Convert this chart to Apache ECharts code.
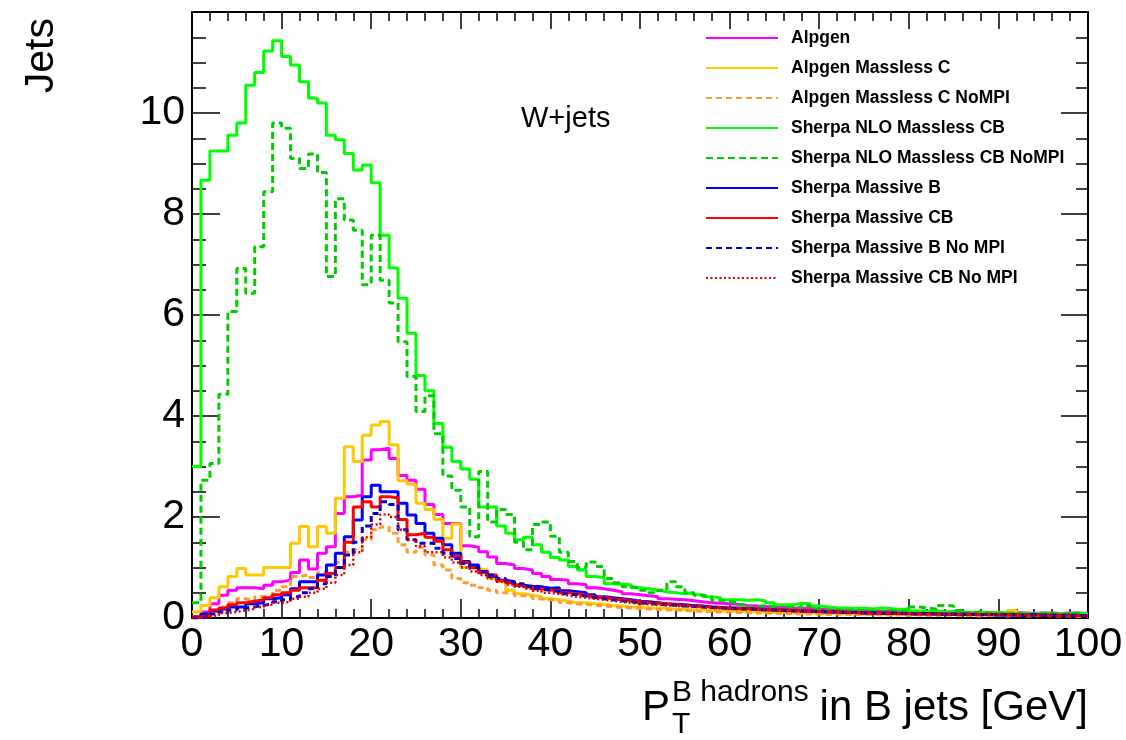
<!DOCTYPE html>
<html>
<head>
<meta charset="utf-8">
<script src="https://cdn.jsdelivr.net/npm/echarts@6/dist/echarts.min.js"></script>
<style>
  html, body { margin: 0; padding: 0; background: #fff; }
  #chart { width: 1126px; height: 740px; }
</style>
</head>
<body>
<div id="chart"></div>
<script>
// Histogram binning: 100 bins of 1 GeV from 0 to 100 GeV
const NBINS = 100;
const BIN_WIDTH = 1;
const xTicks = [0, 10, 20, 30, 40, 50, 60, 70, 80, 90, 100];
const yTicks = [0, 2, 4, 6, 8, 10];

const seriesNames = [
  'Alpgen',
  'Alpgen Massless C',
  'Alpgen Massless C NoMPI',
  'Sherpa NLO Massless CB',
  'Sherpa NLO Massless CB NoMPI',
  'Sherpa Massive B',
  'Sherpa Massive CB',
  'Sherpa Massive B No MPI',
  'Sherpa Massive CB No MPI'
];

// Bin contents (Jets per 1 GeV bin)
const alpgen = [
  0.02, 0.12, 0.28, 0.45, 0.55, 0.60, 0.60, 0.58, 0.65, 0.72,
  0.75, 0.90, 1.15, 0.97, 1.28, 1.41, 2.07, 2.40, 2.43, 3.13,
  3.33, 3.36, 3.16, 2.82, 2.73, 2.55, 2.25, 2.05, 1.87, 1.87,
  1.43, 1.40, 1.31, 1.21, 1.08, 1.05, 0.98, 0.95, 0.88, 0.82,
  0.76, 0.75, 0.68, 0.66, 0.60, 0.58, 0.55, 0.52, 0.48, 0.46,
  0.44, 0.42, 0.38, 0.37, 0.36, 0.34, 0.32, 0.30, 0.29, 0.28,
  0.27, 0.25, 0.24, 0.23, 0.22, 0.22, 0.20, 0.20, 0.19, 0.18,
  0.17, 0.17, 0.16, 0.15, 0.15, 0.14, 0.14, 0.13, 0.13, 0.12,
  0.12, 0.12, 0.11, 0.12, 0.11, 0.11, 0.10, 0.11, 0.10, 0.10,
  0.10, 0.11, 0.10, 0.09, 0.10, 0.10, 0.09, 0.10, 0.10, 0.09
];
const alpgenMasslessC = [
  0.12, 0.25, 0.40, 0.62, 0.82, 0.98, 0.85, 0.85, 1.00, 1.00,
  1.00, 1.48, 1.81, 1.41, 1.81, 1.68, 2.37, 3.39, 3.10, 3.62,
  3.82, 3.89, 3.43, 2.72, 2.65, 2.27, 2.15, 1.95, 1.58, 1.86,
  1.00, 0.98, 0.95, 0.78, 0.72, 0.55, 0.48, 0.45, 0.42, 0.38,
  0.36, 0.33, 0.30, 0.30, 0.28, 0.27, 0.25, 0.24, 0.22, 0.22,
  0.20, 0.20, 0.19, 0.18, 0.17, 0.16, 0.16, 0.15, 0.14, 0.14,
  0.13, 0.13, 0.12, 0.12, 0.11, 0.11, 0.10, 0.10, 0.10, 0.09,
  0.09, 0.10, 0.08, 0.09, 0.08, 0.09, 0.08, 0.07, 0.08, 0.07,
  0.08, 0.07, 0.08, 0.07, 0.07, 0.08, 0.07, 0.08, 0.07, 0.09,
  0.10, 0.15, 0.08, 0.07, 0.08, 0.07, 0.08, 0.07, 0.08, 0.07
];
const alpgenMasslessCNoMPI = [
  0.02, 0.08, 0.15, 0.22, 0.30, 0.38, 0.35, 0.42, 0.45, 0.55,
  0.62, 0.82, 0.85, 0.80, 0.90, 1.05, 1.10, 1.30, 1.35, 1.55,
  1.75, 1.80, 1.68, 1.45, 1.30, 1.40, 1.25, 1.05, 0.95, 0.78,
  0.70, 0.65, 0.60, 0.55, 0.50, 0.48, 0.44, 0.42, 0.38, 0.36,
  0.34, 0.30, 0.28, 0.27, 0.25, 0.24, 0.22, 0.21, 0.20, 0.19,
  0.18, 0.17, 0.16, 0.16, 0.15, 0.14, 0.13, 0.13, 0.12, 0.12,
  0.11, 0.11, 0.10, 0.10, 0.09, 0.09, 0.09, 0.08, 0.08, 0.08,
  0.07, 0.08, 0.07, 0.07, 0.06, 0.07, 0.06, 0.06, 0.06, 0.05,
  0.06, 0.05, 0.05, 0.06, 0.05, 0.05, 0.05, 0.04, 0.05, 0.05,
  0.04, 0.05, 0.04, 0.04, 0.05, 0.04, 0.04, 0.04, 0.03, 0.04
];
const sherpaNLOMasslessCB = [
  3.00, 8.67, 9.25, 9.25, 9.56, 9.80, 10.55, 10.80, 11.23, 11.43,
  11.12, 10.95, 10.62, 10.29, 10.20, 9.56, 9.47, 9.20, 8.87, 8.97,
  8.62, 7.58, 6.93, 6.33, 5.64, 4.80, 4.50, 3.85, 3.38, 3.10,
  2.95, 2.75, 2.20, 2.20, 1.82, 1.68, 1.55, 1.60, 1.45, 1.30,
  1.20, 1.15, 1.02, 0.95, 0.82, 0.80, 0.68, 0.67, 0.66, 0.60,
  0.58, 0.55, 0.52, 0.50, 0.48, 0.50, 0.46, 0.42, 0.40, 0.36,
  0.36, 0.35, 0.36, 0.34, 0.30, 0.26, 0.26, 0.29, 0.28, 0.24,
  0.22, 0.20, 0.20, 0.19, 0.20, 0.18, 0.20, 0.19, 0.17, 0.18,
  0.14, 0.13, 0.15, 0.12, 0.13, 0.12, 0.11, 0.12, 0.10, 0.11,
  0.10, 0.09, 0.10, 0.08, 0.10, 0.09, 0.08, 0.09, 0.10, 0.08
];
const sherpaNLOMasslessCBNoMPI = [
  0.30, 2.73, 3.06, 4.43, 6.07, 6.92, 6.43, 7.35, 8.44, 9.80,
  9.70, 9.10, 8.90, 9.19, 8.82, 6.76, 8.30, 7.88, 7.68, 6.60,
  7.58, 6.69, 6.24, 5.47, 4.78, 4.09, 4.40, 3.65, 2.81, 2.53,
  2.20, 1.61, 2.90, 1.90, 2.15, 2.05, 1.50, 1.35, 1.85, 1.90,
  1.62, 1.30, 1.12, 1.00, 1.11, 1.02, 0.78, 0.70, 0.62, 0.60,
  0.55, 0.50, 0.55, 0.72, 0.62, 0.50, 0.45, 0.42, 0.35, 0.32,
  0.30, 0.26, 0.22, 0.25, 0.22, 0.18, 0.22, 0.20, 0.25, 0.18,
  0.15, 0.16, 0.14, 0.16, 0.13, 0.14, 0.12, 0.15, 0.13, 0.14,
  0.22, 0.20, 0.18, 0.25, 0.24, 0.15, 0.10, 0.12, 0.10, 0.09,
  0.08, 0.10, 0.07, 0.09, 0.08, 0.10, 0.07, 0.08, 0.09, 0.05
];
const sherpaMassiveB = [
  0.02, 0.08, 0.14, 0.18, 0.22, 0.22, 0.28, 0.30, 0.38, 0.40,
  0.46, 0.58, 0.72, 0.72, 0.85, 1.05, 1.28, 1.61, 1.94, 2.40,
  2.63, 2.50, 2.50, 2.27, 2.04, 1.87, 1.68, 1.58, 1.45, 1.28,
  1.12, 1.05, 0.92, 0.82, 0.75, 0.72, 0.65, 0.63, 0.62, 0.59,
  0.60, 0.54, 0.52, 0.50, 0.46, 0.42, 0.40, 0.38, 0.36, 0.33,
  0.32, 0.30, 0.28, 0.27, 0.26, 0.25, 0.24, 0.22, 0.21, 0.20,
  0.20, 0.19, 0.18, 0.17, 0.16, 0.16, 0.15, 0.14, 0.14, 0.13,
  0.12, 0.12, 0.11, 0.11, 0.10, 0.10, 0.10, 0.09, 0.09, 0.09,
  0.08, 0.09, 0.08, 0.08, 0.07, 0.08, 0.07, 0.07, 0.07, 0.06,
  0.07, 0.06, 0.06, 0.07, 0.06, 0.06, 0.05, 0.06, 0.05, 0.05
];
const sherpaMassiveCB = [
  0.02, 0.05, 0.16, 0.20, 0.26, 0.30, 0.33, 0.36, 0.40, 0.46,
  0.50, 0.55, 0.60, 0.60, 0.75, 0.88, 1.00, 1.50, 2.20, 2.30,
  2.20, 2.40, 2.38, 1.95, 1.65, 1.68, 1.60, 1.52, 1.35, 1.22,
  1.10, 1.00, 0.90, 0.85, 0.75, 0.70, 0.66, 0.62, 0.58, 0.55,
  0.55, 0.50, 0.48, 0.45, 0.42, 0.40, 0.38, 0.36, 0.34, 0.32,
  0.30, 0.29, 0.28, 0.26, 0.25, 0.24, 0.23, 0.22, 0.21, 0.20,
  0.19, 0.19, 0.18, 0.17, 0.17, 0.16, 0.15, 0.15, 0.14, 0.13,
  0.13, 0.12, 0.12, 0.11, 0.11, 0.10, 0.10, 0.10, 0.09, 0.09,
  0.09, 0.08, 0.09, 0.08, 0.08, 0.07, 0.08, 0.07, 0.07, 0.07,
  0.06, 0.07, 0.06, 0.06, 0.06, 0.05, 0.06, 0.05, 0.05, 0.05
];
const sherpaMassiveBNoMPI = [
  0.00, 0.03, 0.08, 0.12, 0.16, 0.20, 0.22, 0.25, 0.28, 0.32,
  0.36, 0.42, 0.50, 0.58, 0.68, 0.82, 1.00, 1.25, 1.50, 1.82,
  2.07, 2.30, 2.25, 1.75, 1.55, 1.48, 1.48, 1.38, 1.28, 1.18,
  1.08, 1.00, 0.92, 0.85, 0.78, 0.72, 0.68, 0.62, 0.58, 0.55,
  0.52, 0.48, 0.46, 0.43, 0.40, 0.38, 0.36, 0.34, 0.32, 0.30,
  0.29, 0.27, 0.26, 0.25, 0.24, 0.23, 0.22, 0.21, 0.20, 0.19,
  0.18, 0.18, 0.17, 0.16, 0.16, 0.15, 0.14, 0.14, 0.13, 0.13,
  0.12, 0.12, 0.11, 0.11, 0.10, 0.10, 0.09, 0.10, 0.09, 0.08,
  0.08, 0.09, 0.08, 0.07, 0.08, 0.07, 0.07, 0.06, 0.07, 0.06,
  0.06, 0.06, 0.05, 0.06, 0.05, 0.05, 0.05, 0.04, 0.05, 0.04
];
const sherpaMassiveCBNoMPI = [
  0.00, 0.02, 0.05, 0.10, 0.12, 0.15, 0.18, 0.22, 0.26, 0.30,
  0.32, 0.38, 0.42, 0.50, 0.58, 0.70, 0.85, 1.05, 1.30, 1.60,
  1.85, 2.05, 2.00, 1.75, 1.55, 1.42, 1.30, 1.30, 1.20, 1.10,
  1.00, 0.92, 0.85, 0.78, 0.72, 0.66, 0.62, 0.58, 0.54, 0.50,
  0.48, 0.45, 0.42, 0.40, 0.38, 0.36, 0.34, 0.32, 0.30, 0.28,
  0.27, 0.26, 0.25, 0.24, 0.23, 0.22, 0.21, 0.20, 0.19, 0.18,
  0.18, 0.17, 0.16, 0.16, 0.15, 0.14, 0.14, 0.13, 0.13, 0.12,
  0.12, 0.11, 0.11, 0.10, 0.10, 0.09, 0.09, 0.09, 0.08, 0.08,
  0.08, 0.07, 0.08, 0.07, 0.07, 0.07, 0.06, 0.07, 0.06, 0.06,
  0.06, 0.05, 0.06, 0.05, 0.05, 0.05, 0.04, 0.05, 0.04, 0.04
];

const seriesValues = [
  alpgen, alpgenMasslessC, alpgenMasslessCNoMPI,
  sherpaNLOMasslessCB, sherpaNLOMasslessCBNoMPI,
  sherpaMassiveB, sherpaMassiveCB, sherpaMassiveBNoMPI, sherpaMassiveCBNoMPI
];

// Line appearance for each histogram
const lineStyles = [
  { color: '#ff00ff', width: 3, type: 'solid' },
  { color: '#ffc800', width: 3, type: 'solid' },
  { color: '#ff9933', width: 3, type: [6, 4] },
  { color: '#00ff00', width: 3, type: 'solid' },
  { color: '#00cc00', width: 3, type: [7, 4] },
  { color: '#0000ff', width: 3, type: 'solid' },
  { color: '#ff0000', width: 3, type: 'solid' },
  { color: '#0000cc', width: 3, type: [6, 4] },
  { color: '#dd0000', width: 2.5, type: [2, 2.5] }
];

// Convert bin contents into step points at the bin lower edges (plus closing edge)
function toSteps(values) {
  const pts = values.map((v, i) => [i * BIN_WIDTH, v]);
  pts.push([NBINS * BIN_WIDTH, values[values.length - 1]]);
  return pts;
}

const FONT = '"Liberation Sans", Arial, Helvetica, sans-serif';

const chart = echarts.init(document.getElementById('chart'), null, { renderer: 'canvas' });

const frameLine = { show: true, onZero: false, lineStyle: { color: '#000', width: 2 } };
const tickStyle = { color: '#000', width: 1.5 };

const option = {
  animation: false,
  backgroundColor: '#ffffff',
  grid: { left: 192, right: 38, top: 12, bottom: 122, containLabel: false },
  xAxis: [
    {
      type: 'value', position: 'bottom', min: xTicks[0], max: xTicks[xTicks.length - 1], interval: 10,
      axisLine: frameLine,
      axisTick: { show: true, inside: true, length: 19, lineStyle: tickStyle },
      minorTick: { show: true, splitNumber: 5, length: 9, lineStyle: tickStyle },
      axisLabel: { show: true, color: '#000', fontFamily: FONT, fontSize: 41, margin: 6 },
      splitLine: { show: false }
    },
    {
      type: 'value', position: 'top', min: xTicks[0], max: xTicks[xTicks.length - 1], interval: 10,
      axisLine: frameLine,
      axisTick: { show: true, inside: true, length: 17, lineStyle: tickStyle },
      minorTick: { show: true, splitNumber: 5, length: 9, lineStyle: tickStyle },
      axisLabel: { show: false },
      splitLine: { show: false }
    }
  ],
  yAxis: [
    {
      type: 'value', position: 'left', min: 0, max: 12, interval: 2,
      axisLine: frameLine,
      axisTick: { show: true, inside: true, length: 28, lineStyle: tickStyle },
      minorTick: { show: true, splitNumber: 4, length: 14, lineStyle: tickStyle },
      axisLabel: {
        show: true, color: '#000', fontFamily: FONT, fontSize: 41, margin: 7,
        showMaxLabel: false,
        formatter: (v) => (yTicks.indexOf(v) >= 0 ? String(v) : '')
      },
      splitLine: { show: false }
    },
    {
      type: 'value', position: 'right', min: 0, max: 12, interval: 2,
      axisLine: frameLine,
      axisTick: { show: true, inside: true, length: 27, lineStyle: tickStyle },
      minorTick: { show: true, splitNumber: 4, length: 12, lineStyle: tickStyle },
      axisLabel: { show: false },
      splitLine: { show: false }
    }
  ],
  legend: {
    orient: 'vertical',
    left: 705,
    top: 29,
    padding: 0,
    itemWidth: 72,
    itemHeight: 14,
    itemGap: 12,
    selectedMode: false,
    itemStyle: { color: 'transparent', borderColor: 'transparent', borderWidth: 0 },
    textStyle: { color: '#000', fontFamily: FONT, fontSize: 17.5, fontWeight: 'bold', padding: [0, 0, 0, 8] },
    data: seriesNames
  },
  graphic: [
    { type: 'text', left: 521, top: 104, style: { text: 'W+jets', fontFamily: FONT, fontSize: 29, fill: '#000' } },
    { type: 'text', x: 42, y: 18, rotation: Math.PI / 2,
      style: { text: 'Jets', fontFamily: FONT, fontSize: 41, fill: '#000', align: 'right', verticalAlign: 'middle' } },
    { type: 'text', x: 642, y: 708, style: { text: 'P', fontFamily: FONT, fontSize: 42, fill: '#000', verticalAlign: 'middle' } },
    { type: 'text', x: 672, y: 693, style: { text: 'B hadrons', fontFamily: FONT, fontSize: 30, fill: '#000', verticalAlign: 'middle' } },
    { type: 'text', x: 672, y: 725, style: { text: 'T', fontFamily: FONT, fontSize: 30, fill: '#000', verticalAlign: 'middle' } },
    { type: 'text', x: 1088, y: 708, style: { text: 'in B jets [GeV]', fontFamily: FONT, fontSize: 42, fill: '#000', align: 'right', verticalAlign: 'middle' } }
  ],
  series: seriesNames.map((name, k) => ({
    name: name,
    type: 'line',
    step: 'end',
    xAxisIndex: 0,
    yAxisIndex: 0,
    symbol: 'none',
    showSymbol: false,
    clip: true,
    color: lineStyles[k].color,
    lineStyle: lineStyles[k],
    data: toSteps(seriesValues[k]),
    z: 2 + k
  }))
};

chart.setOption(option);
</script>
</body>
</html>
